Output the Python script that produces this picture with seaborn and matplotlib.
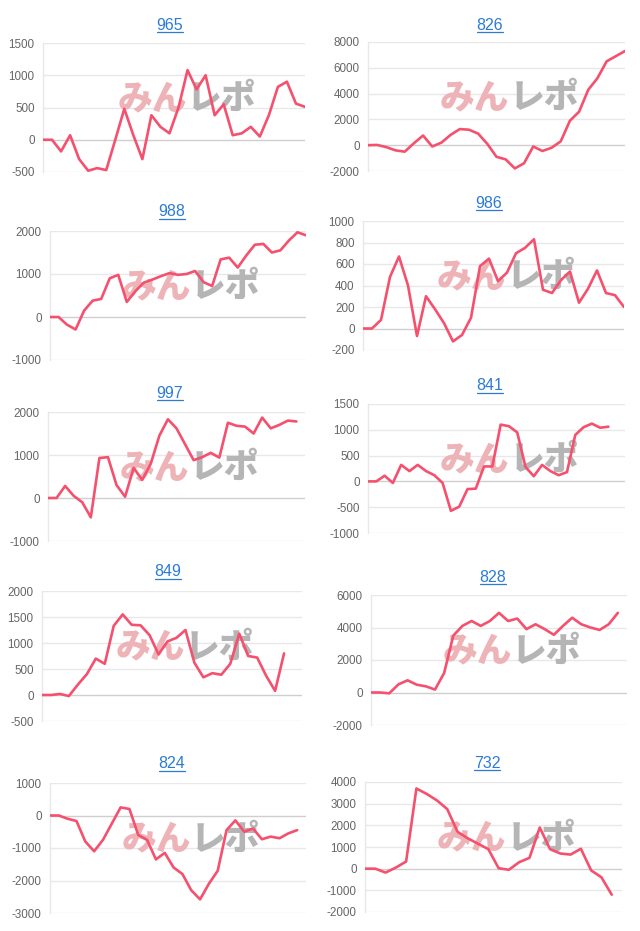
import numpy as np
import matplotlib
matplotlib.use('Agg')
import matplotlib.pyplot as plt
import seaborn as sns
from matplotlib.lines import Line2D

# machine numbers (panel titles)
titles = ['965', '826', '988', '986', '997', '841', '849', '828', '824', '732']

# cumulative difference per game
s965 = [0, 0, -180, 70, -300, -480, -440, -470, 0, 480, 70, -300, 380, 200,
        100, 500, 1080, 780, 1000, 380, 550, 70, 100, 200, 50, 380, 820, 900,
        560, 510]
s826 = [0, 20, -150, -400, -500, 150, 750, -100, 200, 800, 1250, 1200, 900,
        100, -900, -1100, -1800, -1400, -100, -450, -200, 300, 1900, 2600,
        4300, 5200, 6500, 6900, 7300]
s988 = [0, 0, -180, -290, 150, 380, 420, 900, 980, 350, 600, 800, 870, 950,
        1020, 980, 1000, 1070, 810, 720, 1340, 1380, 1150, 1430, 1680, 1700,
        1500, 1550, 1780, 1970, 1900]
s986 = [0, 0, 80, 480, 670, 400, -70, 300, 180, 50, -120, -60, 100, 580, 650,
        440, 520, 700, 750, 830, 360, 330, 450, 530, 240, 370, 540, 330, 310,
        200]
s997 = [0, 0, 280, 50, -100, -450, 930, 950, 300, 30, 700, 420, 800, 1450,
        1830, 1620, 1250, 880, 950, 1050, 940, 1750, 1680, 1660, 1500, 1870,
        1620, 1700, 1800, 1780]
s841 = [0, 0, 110, -30, 320, 200, 320, 200, 120, -30, -570, -490, -150, -140,
        290, 290, 1100, 1070, 950, 280, 100, 320, 200, 120, 180, 900, 1050,
        1120, 1040, 1060]
s849 = [0, 0, 20, -20, 200, 400, 700, 600, 1330, 1550, 1350, 1340, 1150, 780,
        1030, 1100, 1250, 620, 340, 420, 390, 600, 1180, 750, 720, 370, 80, 800]
s828 = [0, 0, -50, 500, 750, 480, 380, 180, 1200, 3500, 4100, 4400, 4100,
        4400, 4900, 4400, 4550, 3900, 4200, 3900, 3550, 4100, 4600, 4200, 4000,
        3850, 4200, 4900]
s824 = [0, 0, -100, -170, -800, -1100, -750, -250, 250, 200, -600, -750,
        -1350, -1150, -1600, -1800, -2300, -2580, -2100, -1700, -450, -150,
        -500, -400, -730, -650, -700, -550, -450]
s732 = [0, 0, -180, 50, 330, 3700, 3450, 3150, 2750, 1700, 1400, 1150, 900,
        20, -50, 300, 500, 1900, 900, 700, 650, 920, -80, -400, -1200]
series = [s965, s826, s988, s986, s997, s841, s849, s828, s824, s732]

# number of category slots on each x axis
slots = [30, 29, 31, 30, 31, 32, 30, 29, 30, 26]

yticks = [
    [-500, 0, 500, 1000, 1500],
    [-2000, 0, 2000, 4000, 6000, 8000],
    [-1000, 0, 1000, 2000],
    [-200, 0, 200, 400, 600, 800, 1000],
    [-1000, 0, 1000, 2000],
    [-1000, -500, 0, 500, 1000, 1500],
    [-500, 0, 500, 1000, 1500, 2000],
    [-2000, 0, 2000, 4000, 6000],
    [-3000, -2000, -1000, 0, 1000],
    [-2000, -1000, 0, 1000, 2000, 3000, 4000],
]

# plot boxes in pixels: left, top, right, bottom
boxes = [(43, 43, 305, 172), (368, 42, 625, 171),
         (50, 231, 306, 360), (363, 221, 624, 350),
         (48, 412, 305, 541), (368, 404, 625, 533),
         (42, 591, 302, 721), (371, 595, 627, 725),
         (50, 783, 306, 913), (365, 782, 622, 912)]
title_pos = [(170, 25), (490, 25), (172, 212), (489, 203), (170, 393),
             (490, 386), (168, 572), (493, 577), (172, 764), (487, 763)]

W, H = 640, 931
LINE = '#f5506d'
GRID = '#e8e8e8'

sns.set_style('white')
plt.rcParams['font.family'] = ['Liberation Sans', 'Noto Sans CJK JP',
                               'DejaVu Sans']
plt.rcParams['axes.unicode_minus'] = False

fig = plt.figure(figsize=(W / 100, H / 100), dpi=100)
fig.patch.set_facecolor('white')

title_texts = []
for i in range(10):
    l, t, r, b = boxes[i]
    ax = fig.add_axes([l / W, 1 - b / H, (r - l) / W, (b - t) / H])
    y = series[i]
    sns.lineplot(x=np.arange(len(y)), y=y, ax=ax, color=LINE,
                 linewidth=1.9, zorder=3)
    ax.set_xlim(0, slots[i] - 1)
    ax.set_ylim(yticks[i][0], yticks[i][-1])
    ax.set_yticks(yticks[i])
    ax.set_xticks([])
    ax.set_xlabel('')
    ax.set_ylabel('')
    for v in yticks[i]:
        ax.axhline(v, color='#cfcfcf' if v == 0 else GRID, lw=1, zorder=1)
    for s in ['top', 'right', 'bottom']:
        ax.spines[s].set_visible(False)
    ax.spines['left'].set_color(GRID)
    ax.spines['left'].set_linewidth(1)
    ax.tick_params(axis='y', length=4, width=1, color=GRID, pad=2,
                   labelsize=8.4, labelcolor='#666666')
    ax.set_facecolor('none')

    # watermark
    ax.text(0.55, 0.57, 'みん', transform=ax.transAxes, ha='right',
            va='center', fontsize=25, fontweight='heavy', color='#eeb3b7',
            family=['Noto Sans CJK JP'], zorder=2)
    ax.text(0.55, 0.57, 'レポ', transform=ax.transAxes, ha='left',
            va='center', fontsize=25, fontweight='heavy', color='#b5b5b5',
            family=['Noto Sans CJK JP'], zorder=2)

    tx, ty = title_pos[i]
    title_texts.append(fig.text(tx / W, 1 - ty / H, titles[i], ha='center',
                                va='center', fontsize=11.5, color='#2b7bd6'))

# underline the titles like links
fig.canvas.draw()
renderer = fig.canvas.get_renderer()
for txt in title_texts:
    bb = txt.get_window_extent(renderer)
    yy = (bb.y0 + 1) / H
    fig.add_artist(Line2D([bb.x0 / W, bb.x1 / W], [yy, yy],
                          transform=fig.transFigure, color='#2b7bd6', lw=0.9))

fig.savefig('out.png', dpi=100)
